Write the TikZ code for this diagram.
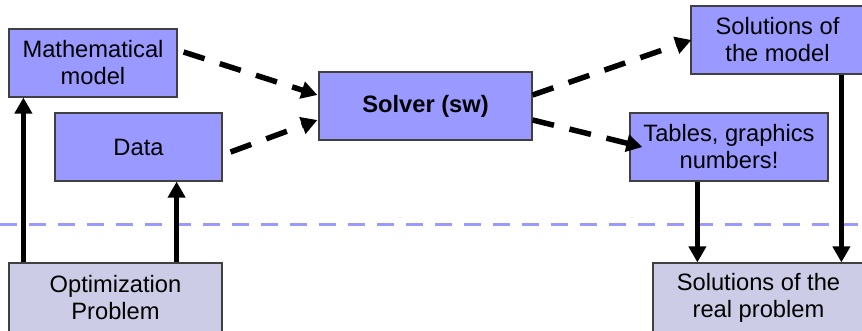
\documentclass[tikz,border=0pt]{standalone}
\usepackage{fontspec}
\setmainfont{Liberation Sans}
\usetikzlibrary{arrows.meta,calc}
\definecolor{boxblue}{HTML}{9999FF}
\definecolor{boxgray}{HTML}{CCCCE6}
\definecolor{boxline}{HTML}{404040}
\begin{document}
\begin{tikzpicture}[x=1pt,y=-1pt,
  box/.style={draw=boxline,line width=1.2pt,fill=boxblue,inner sep=0pt,align=center,
    font=\fontsize{23.7}{27}\selectfont},
  lowbox/.style={box,fill=boxgray},
  solidarrow/.style={line width=5.5pt,-{Triangle[length=16pt,width=17pt]}},
  dasharrow/.style={line width=5.5pt,dash pattern=on 22pt off 16pt,-{Triangle[length=16pt,width=17pt]}},
  separator/.style={draw=boxblue,line width=3pt,dash pattern=on 17pt off 12pt}]
\useasboundingbox (0,0) rectangle (862,331);
\fill[white] (0,0) rectangle (862,331);
\draw[separator] (0,225) -- (862,225);
\node[box,minimum width=168pt,minimum height=68pt] (mm) at (93,63) {Mathematical\\model};
\node[box,minimum width=167pt,minimum height=68pt] (data) at (138.5,147) {Data};
\node[box,minimum width=213pt,minimum height=68pt,font=\fontsize{23.7}{27}\selectfont\bfseries] (solver) at (425.5,106) {Solver (sw)};
\node[box,minimum width=173pt,minimum height=68pt] (som) at (777.5,40) {Solutions of\\the model};
\node[box,minimum width=198pt,minimum height=68pt] (tab) at (729,147) {Tables, graphics\\numbers!};
\node[lowbox,minimum width=213pt,minimum height=70pt] (opt) at (115.5,298) {Optimization\\Problem};
\node[lowbox,minimum width=211pt,minimum height=70pt] (real) at (758.5,298) {Solutions of the\\real problem};
% solid arrows
\draw[solidarrow] ($(opt.north west)+(15,0)$) -- ($(mm.south west)+(15,0)$);
\draw[solidarrow] ($(opt.north east)+(-46,0)$) -- ($(data.south east)+(-46,0)$);
\draw[solidarrow] ($(tab.south west)+(68,0)$) -- ($(real.north west)+(45,0)$);
\draw[solidarrow] ($(som.south west)+(151,0)$) -- ($(real.north west)+(189,0)$);
% dashed arrows
\draw[dasharrow] ($(mm.east)+(6,-11)$) -- ($(solver.west)+(-1,-11)$);
\draw[dasharrow] ($(data.east)+(8,5)$) -- ($(solver.west)+(-1,14)$);
\draw[dasharrow] ($(solver.east)+(0,-11)$) -- ($(som.west)+(1,0)$);
\draw[dasharrow] ($(solver.east)+(0,14)$) -- ($(tab.west)+(13,0)$);
\end{tikzpicture}
\end{document}
